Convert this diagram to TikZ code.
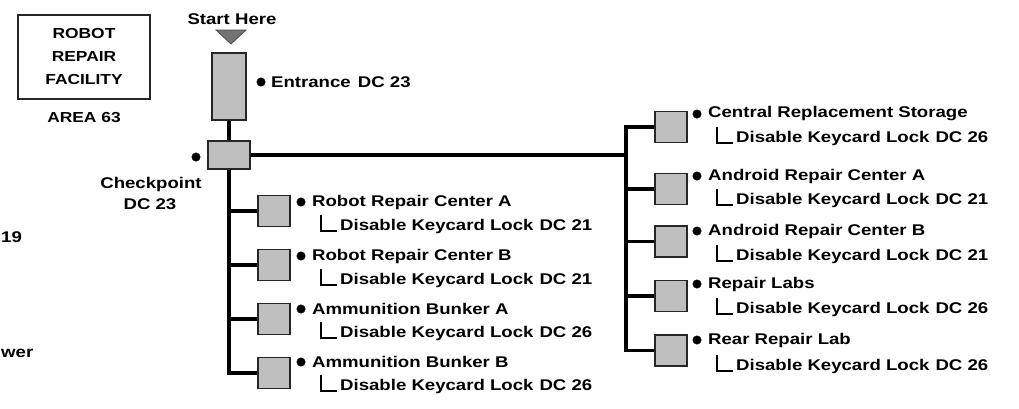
\documentclass[tikz,border=0pt]{standalone}
\usepackage{fontspec}
\setmainfont{Liberation Sans}[FakeStretch=1.2]
\tikzset{
 room/.style={draw=black!85, fill=black!25, line width=1.3pt, minimum width=32pt, minimum height=31pt, inner sep=0pt},
 wire/.style={line width=3.6pt, black},
 lbl/.style={anchor=west, inner sep=0pt, font=\bfseries\fontsize{15.5}{18}\selectfont},
 ctr/.style={inner sep=0pt, font=\bfseries\fontsize{15.5}{18}\selectfont},
 dotmark/.style={circle, draw=black, fill=black, inner sep=0pt, minimum size=8.5pt},
 lmark/.style={line width=2.8pt, black},
}
% #1 name, #2 x of bullet, #3 y of title, #4 y of lock text, #5 title, #6 dc
\newcommand\roomlab[6]{%
  \node[dotmark] (#1d) at (#2,#3) {};
  \node[lbl] (#1t) at (#2+11,#3) {#5};
  \node[lbl] (#1k) at (#2+39,#4) {Disable Keycard Lock\hspace{6pt}#6};
  \draw[lmark] (#2+20,#4-11) |- (#2+36,#4+5);
}
\begin{document}
\begin{tikzpicture}[x=1pt,y=-1pt]
\useasboundingbox (0,0) rectangle (1019,408);
\fill[white] (0,0) rectangle (1019,408);

% title
\node[draw=black!85, line width=1.3pt, minimum width=132pt, minimum height=84pt, inner sep=0pt,
      align=center, font=\bfseries\fontsize{14.5}{23}\selectfont] (title) at (84,57) {ROBOT\\REPAIR\\FACILITY};
\node[ctr, font=\bfseries\fontsize{14.5}{18}\selectfont] (area) at (84,118) {AREA 63};

% fragments at left edge
\node[ctr, anchor=west] (frag1) at (1,237) {19};
\node[ctr, anchor=west] (frag2) at (1,353) {wer};

% start
\node[ctr] (start) at (232,19) {Start Here};
\draw[black!70, fill=black!55, line width=0.8pt] (216,30) -- (246,30) -- (231,44) -- cycle;

% entrance & checkpoint
\node[room, minimum width=34pt, minimum height=67pt] (ent) at (229,86.5) {};
\node[room, minimum width=42pt, minimum height=28pt] (chk) at (229,155) {};
\node[dotmark] (entd) at (261,82) {};
\node[lbl] (entt) at (271,82) {Entrance\hspace{2pt} DC 23};
\node[dotmark] (chkd) at (196,157) {};
\node[ctr] (chkt) at (151,184) {Checkpoint};
\node[ctr] (chkdc) at (150,204) {DC 23};

% left rooms
\node[room] (l1) at (274,211) {};
\node[room] (l2) at (274,265) {};
\node[room] (l3) at (274,319) {};
\node[room] (l4) at (274,373) {};

% right rooms
\node[room] (r1) at (671,127) {};
\node[room] (r2) at (671,189) {};
\node[room] (r3) at (671,241.5) {};
\node[room] (r4) at (671,296) {};
\node[room] (r5) at (671,350.5) {};

% wires
\draw[wire] (ent.south) -- (chk.north);
\foreach \n in {l1,l2,l3,l4} { \draw[wire] (chk.south) |- (\n.west); }
\coordinate (rsp) at (626,155);
\draw[wire] (chk.east) -- (rsp);
\foreach \n in {r1,r2,r3,r4,r5} { \draw[wire] (rsp) |- (\n.west); }

% left labels
\roomlab{la}{301}{202}{226}{Robot Repair Center A}{DC 21}
\roomlab{lb}{301}{256}{280}{Robot Repair Center B}{DC 21}
\roomlab{lc}{301}{309}{333}{Ammunition Bunker A}{DC 26}
\roomlab{ld}{301}{362}{386}{Ammunition Bunker B}{DC 26}

% right labels
\roomlab{ra}{697}{114}{138}{Central Replacement Storage}{DC 26}
\roomlab{rb}{697}{176}{200}{Android Repair Center A}{DC 21}
\roomlab{rc}{697}{231}{256}{Android Repair Center B}{DC 21}
\roomlab{rd}{697}{284}{309}{Repair Labs}{DC 26}
\roomlab{re}{697}{340}{366}{Rear Repair Lab}{DC 26}
\end{tikzpicture}
\end{document}
